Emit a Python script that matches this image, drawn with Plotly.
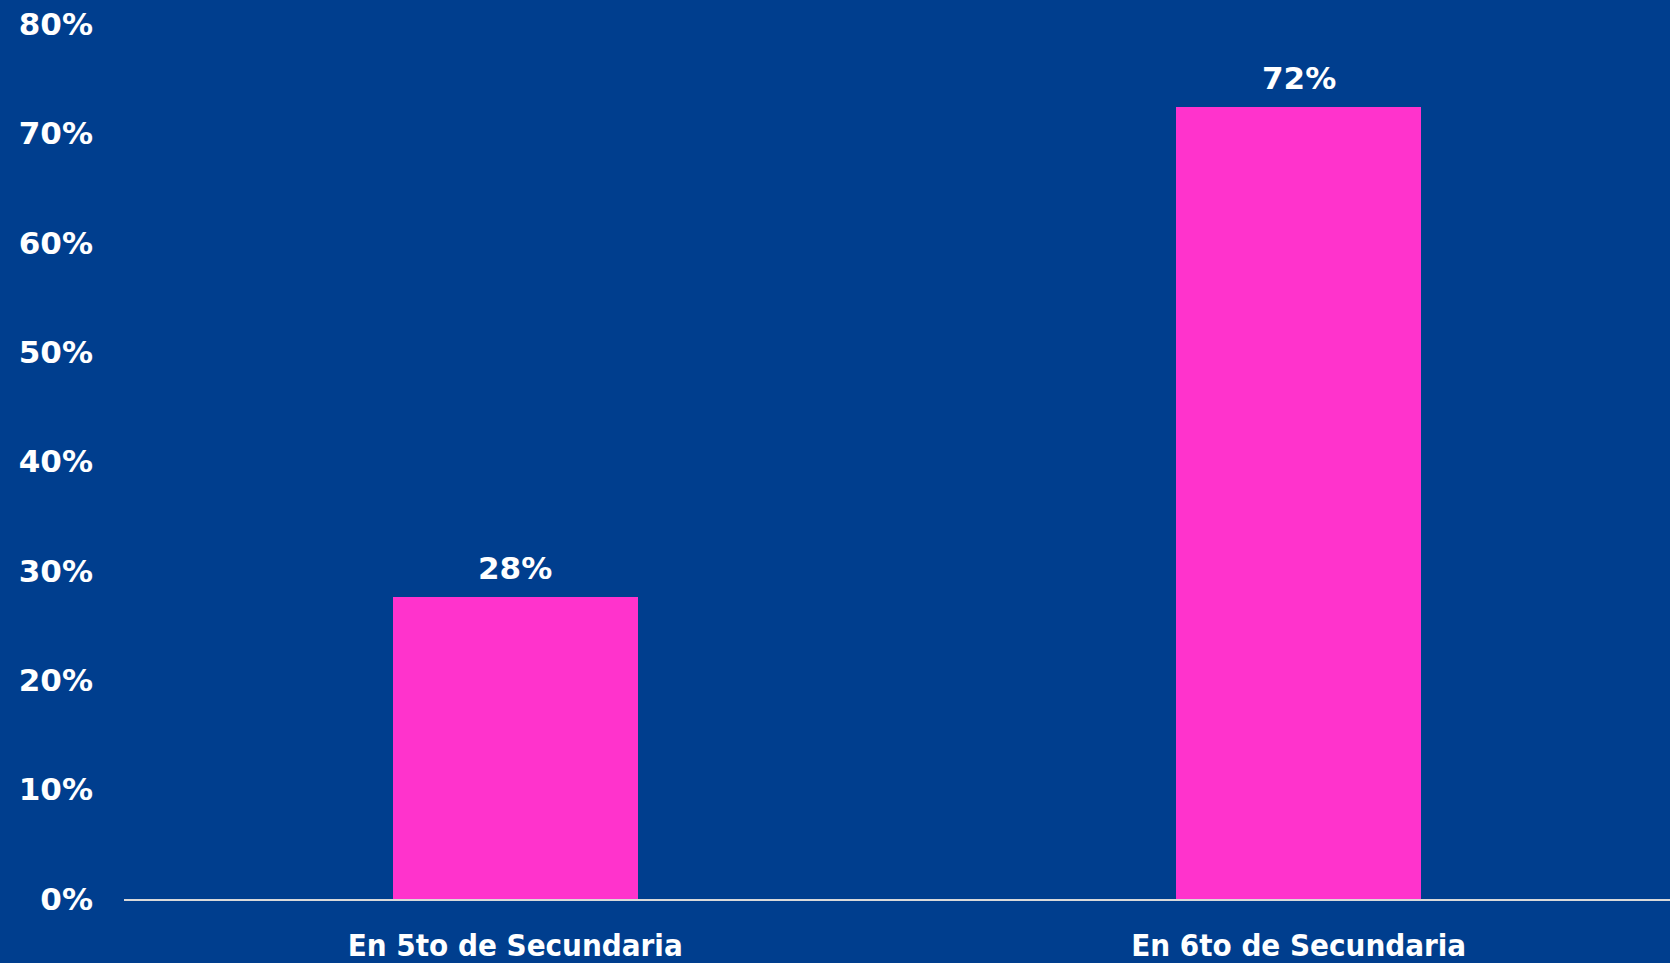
import plotly.graph_objects as go

categories = ["En 5to de Secundaria", "En 6to de Secundaria"]
values = [0.276, 0.724]
labels = ["28%", "72%"]
y_ticks = [0, 0.1, 0.2, 0.3, 0.4, 0.5, 0.6, 0.7, 0.8]

BG = "#003E8E"
PINK = "#FF33CC"
FONT_NUM = "DejaVu Sans, sans-serif"
FONT_CAT = "Tahoma, DejaVu Sans Condensed, DejaVu Sans, sans-serif"

fig = go.Figure()
fig.add_trace(go.Bar(
    x=[0, 1], y=values, width=0.313, marker=dict(color=PINK, line=dict(width=0)),
    hoverinfo="skip",
))
for i, (v, t) in enumerate(zip(values, labels)):
    fig.add_annotation(x=i, y=v, text=t, showarrow=False, yanchor="bottom", yshift=9,
                       font=dict(family=FONT_NUM, size=31, color="white", weight="bold"))

fig.update_layout(
    width=1670, height=963,
    paper_bgcolor=BG, plot_bgcolor=BG,
    margin=dict(l=124, r=0, t=24, b=60),
    showlegend=False,
    bargap=0,
    xaxis=dict(
        range=[-0.4994, 1.474], tickmode="array", tickvals=[0, 1], ticktext=categories,
        showgrid=False, zeroline=False, showline=True, linecolor="#D9D9D9", linewidth=2,
        ticks="", ticklabelstandoff=18,
        tickfont=dict(family=FONT_CAT, size=31, color="white", weight="bold"),
    ),
    yaxis=dict(
        range=[0, 0.8], tickmode="array", tickvals=y_ticks, tickformat=".0%",
        showgrid=False, zeroline=False, showline=False, ticks="",
        ticklabelstandoff=30,
        tickfont=dict(family=FONT_NUM, size=31, color="white", weight="bold"),
    ),
)

fig.write_html(
    "out.html",
    config={"displayModeBar": False},
    post_script="document.body.style.margin='0';document.body.style.background='" + BG + "';",
)
